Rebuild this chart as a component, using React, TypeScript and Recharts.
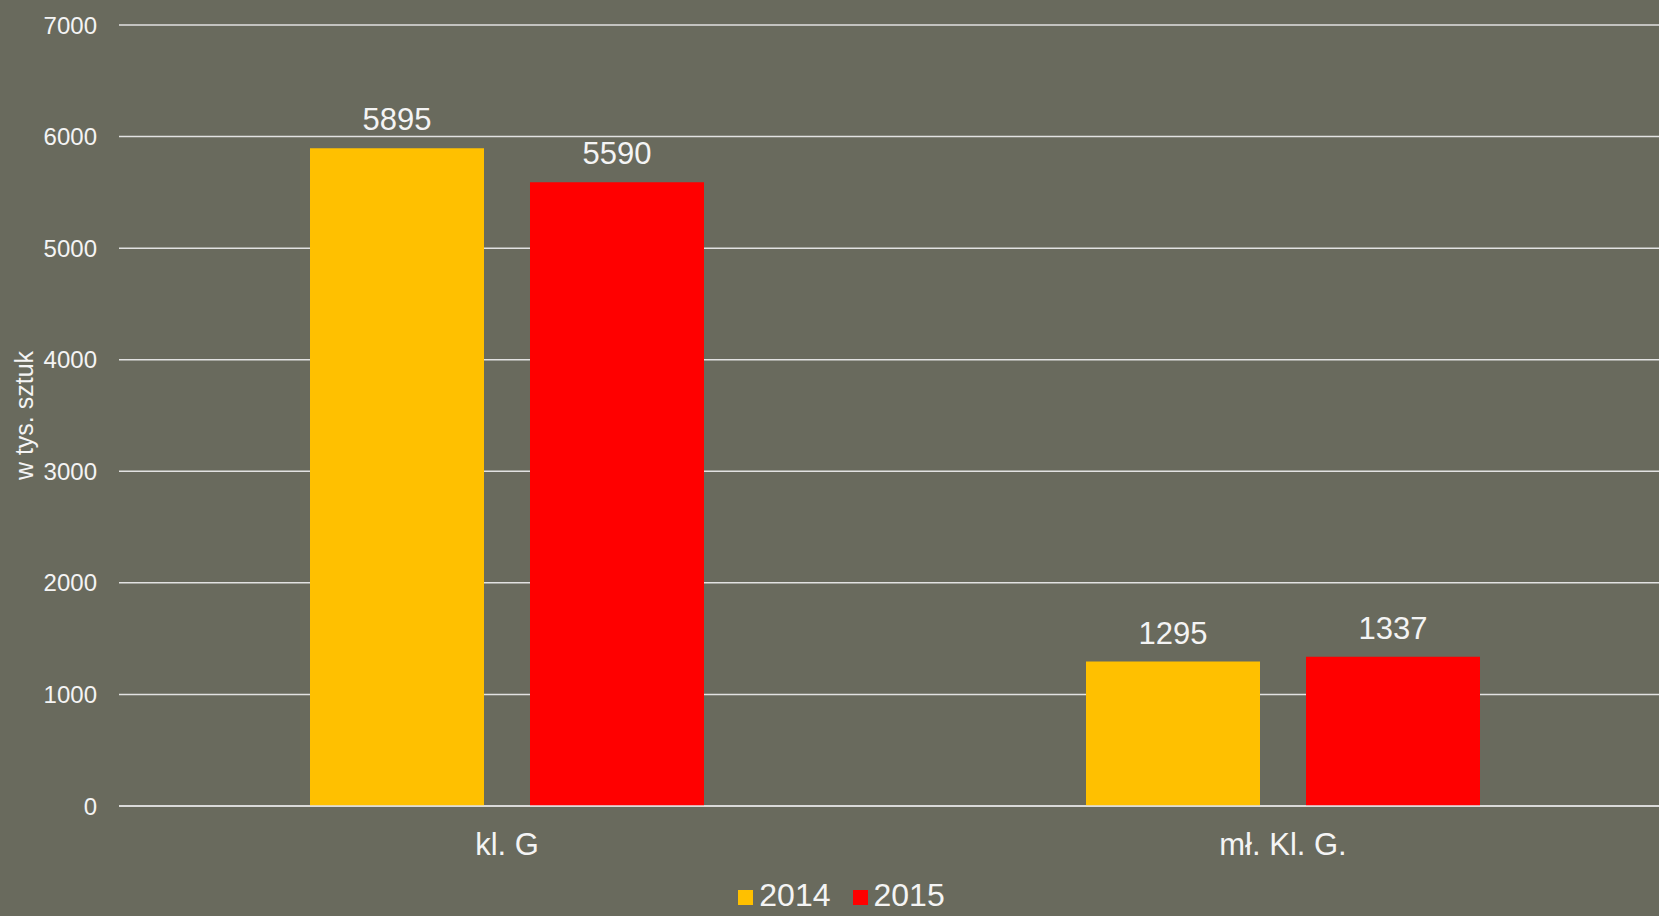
import React from 'react';
import { BarChart, Bar, XAxis, YAxis, CartesianGrid, Legend, LabelList } from 'recharts';

const categories = ['kl. G', 'mł. Kl. G.'];
const values2014 = [5895, 1295];
const values2015 = [5590, 1337];
const yTicks = [0, 1000, 2000, 3000, 4000, 5000, 6000, 7000];

const data = categories.map((name, i) => ({ name, y2014: values2014[i], y2015: values2015[i] }));

const FONT = '"Liberation Sans", Arial, sans-serif';
const TEXT = '#f4f4f4';
const GRID = '#e2e2e2';

const series = [
  { key: 'y2014', label: '2014', color: '#FFC000' },
  { key: 'y2015', label: '2015', color: '#FF0000' },
];

const LegendBox = () => (
  <div style={{ display: 'flex', justifyContent: 'center', alignItems: 'center', paddingLeft: 34, fontFamily: FONT, fontSize: 32, color: TEXT, lineHeight: '36px' }}>
    {series.map(s => (
      <div key={s.key} style={{ display: 'flex', alignItems: 'center', marginRight: 22 }}>
        <span style={{ width: 15, height: 15, background: s.color, display: 'inline-block', marginRight: 6, marginTop: 4 }} />
        <span>{s.label}</span>
      </div>
    ))}
  </div>
);

const AxisTitle = (props: any) => {
  const { viewBox } = props;
  const cy = viewBox.y + viewBox.height / 2;
  return (
    <text x={24} y={cy} transform={`rotate(-90, 24, ${cy})`} textAnchor="middle" dominantBaseline="central" fill={TEXT} fontSize={25} fontFamily={FONT}>
      w tys. sztuk
    </text>
  );
};

export default function App() {
  return (
    <div style={{ position: 'absolute', left: 0, top: 0, width: 1659, height: 916, overflow: 'hidden', background: '#696a5d' }}>
      <BarChart width={1671} height={916} data={data} margin={{ top: 25, right: 0, left: 0, bottom: 0 }} barGap={46} barSize={174}>
        <CartesianGrid vertical={false} stroke={GRID} strokeWidth={1.5} />
        <XAxis
          dataKey="name"
          height={72}
          tickLine={false}
          axisLine={{ stroke: GRID, strokeWidth: 1.5 }}
          tickMargin={21}
          tick={{ fill: TEXT, fontSize: 31, fontFamily: FONT }}
        />
        <YAxis
          width={119}
          domain={[0, 7000]}
          ticks={yTicks}
          tickLine={false}
          axisLine={false}
          tickMargin={16}
          tick={{ fill: TEXT, fontSize: 24, fontFamily: FONT }}
          label={<AxisTitle />}
        />
        <Legend verticalAlign="bottom" height={38} wrapperStyle={{ bottom: 1 }} content={<LegendBox />} />
        {series.map(s => (
          <Bar key={s.key} dataKey={s.key} name={s.label} fill={s.color} isAnimationActive={false}>
            <LabelList dataKey={s.key} position="top" offset={18} fill={TEXT} fontSize={31} fontFamily={FONT} />
          </Bar>
        ))}
      </BarChart>
    </div>
  );
}
